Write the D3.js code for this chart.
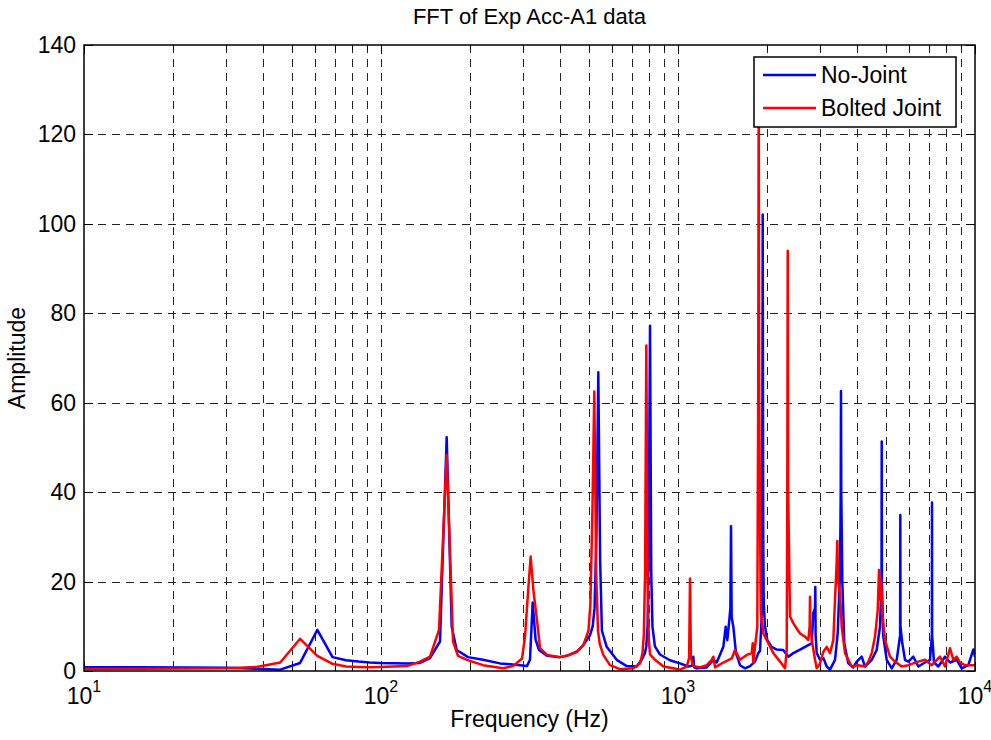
<!DOCTYPE html>
<html lang="en">
    <head>
        <meta charset="utf-8">
        <title>FFT of Exp Acc-A1 data</title>
        <script type="text/javascript" src="https://d3js.org/d3.v7.min.js"></script>
        <style type="text/css">
            body { margin: 0; background: white; }
            text {
                font-family: "Liberation Sans", Arial, sans-serif;
                font-size: 23px;
                fill: black;
            }
            text.title { font-size: 22px; }
        </style>
    </head>
    <body>
        <script type="text/javascript">

        // Datos: [frecuencia (Hz), amplitud]
        var seriesNames = ["No-Joint", "Bolted Joint"];
        var seriesColors = ["#0000ff", "#ff0000"];

        var noJoint = [
            [10,0.85],[15.26,0.85],[22.89,0.8],[30.52,0.7],[38.15,0.5],[45.78,0.3],[53.41,1.8],[61.04,9.2],
            [68.67,3.1],[76.3,2.4],[83.93,2.1],[91.56,1.9],[99.19,1.8],[122.3,1.7],[135.3,1.8],[146.2,2.9],
            [158.0,6.6],[166.4,52.3],[173.0,9.9],[179.8,4.7],[196.3,3.1],[220.5,2.5],[251.6,1.7],[293.8,1.3],
            [310.1,1.1],[317.4,2.5],[324.1,15.3],[331.5,7],[340.4,4.7],[362.2,3.4],[400.6,3.1],[422.0,3.4],
            [456.0,4.3],[479.9,5.8],[505.5,8],[516,10],[523.6,14],[531.2,30],[539.1,66.8],[546.7,25],
            [554.3,9],[575.3,5.4],[621.7,2.5],[671.9,1.1],[726.1,1.0],[754.8,2.5],[774,4],[782,5.5],
            [789.8,10],[797.4,30],[805,77.2],[812.6,22],[820.2,10],[836,5.5],[869.8,3.7],[939.7,2.4],
            [1015.5,1.7],[1083.3,1.0],[1118,1.2],[1126.1,3.2],[1134,0.8],[1156.2,0.6],[1249.2,0.8],[1315,2.5],
            [1350,1.9],[1420.8,5.4],[1447.5,9.9],[1465.6,6.9],[1488.4,11.4],[1500.8,14],[1508.4,32.4],[1516,12],
            [1535.4,9.9],[1567.9,4.0],[1617.4,1.3],[1681.2,0.6],[1747.5,1.1],[1816.8,2.1],[1863.9,4.0],[1888.6,4.5],
            [1913,12],[1920.9,30],[1928.5,102.1],[1936.1,30],[1944,15],[1963,10],[1998.5,6.9],[2067.8,5.4],
            [2149.3,4.8],[2262.2,4.7],[2352,3.2],[2444.8,4.0],[2575.4,4.8],[2746.3,5.8],[2819.9,6.2],[2855.3,13],
            [2892,14],[2899.7,18.8],[2907,8],[2931.3,4.0],[3007.2,2.5],[3085,2.9],[3167.6,1.0],[3249.6,0.3],
            [3377.8,2.5],[3449.2,8.4],[3511.6,21.9],[3530.8,40],[3538.4,62.6],[3546,40],[3574.4,20],[3630,6.2],
            [3744.7,1.7],[3892.4,0.8],[3996.8,2.1],[4154.4,3.2],[4261.9,1.0],[4489.5,2.5],[4666.5,4.7],[4787.5,9.9],
            [4844,20],[4851.8,51.3],[4859,20],[4911.4,7.7],[5043.1,2.5],[5242,0.6],[5450.1,2.5],[5596,8],
            [5604,34.9],[5612,10],[5691.1,6.2],[5811.6,2.5],[5962,2.1],[6198.8,3.2],[6443.6,1.0],[6786.6,1.9],
            [7055.9,2.5],[7158,8],[7165.6,37.7],[7173,8],[7278.3,1.9],[7523.9,1.0],[7925.3,3.2],[8238.2,1.9],
            [8678.3,2.5],[9020.5,0.6],[9493.5,1.3],[9869.8,4.8],[10000,3.2]
        ];

        var boltedJoint = [
            [10,0.45],[15.26,0.5],[22.89,0.55],[30.52,0.6],[38.15,0.9],[45.78,1.9],[53.41,7.2],[61.04,3.4],
            [68.67,1.6],[76.3,1.0],[83.93,0.9],[91.56,0.85],[99.19,0.9],[122.3,1.1],[135.3,2.1],[146.2,3.2],
            [156.8,9.2],[166.4,48.3],[174.8,6.6],[181.6,3.4],[194.8,2.5],[220.5,1.3],[257.5,0.6],[278.3,1.1],
            [298.4,2.8],[305.4,7.7],[313,18],[319.1,25.6],[326,18],[335.1,11.4],[343.1,5.1],[362.2,3.6],
            [400.6,3.1],[422,3.4],[456,4.3],[479.9,5.8],[499.5,9],[507.1,15],[514.8,35],[522.6,62.5],
            [530.2,22],[537.8,9],[545.4,6],[560.4,3.6],[590.2,1.3],[637.8,0.4],[707.2,0.6],[745,1.7],
            [759.5,4],[767.1,8],[774.7,22],[782.3,72.8],[790,20],[797.6,7],[805,3.7],[836.8,2.5],
            [892.3,1.0],[964.2,0.6],[1015.5,0.3],[1069.9,1.0],[1090,3],[1097.7,20.7],[1105.3,3],[1126.1,1.1],
            [1186.1,0.8],[1249.2,1.3],[1298.8,2.5],[1315,3.2],[1332.4,0.8],[1420.8,1.9],[1516.4,2.8],[1555.7,4.7],
            [1617.4,2.5],[1703.4,3.6],[1770.6,4.0],[1784.5,6.2],[1792,1.9],[1849.3,9.9],[1861.9,60],[1869.5,130],
            [1877.1,60],[1899,13.6],[1937.4,8.4],[2013.7,6.2],[2093.6,4.0],[2205.1,2.1],[2292.6,0.6],[2322.9,4.7],
            [2333.6,40],[2341.2,94.0],[2348.8,40],[2383.1,12.2],[2444.8,10.7],[2510.4,9.5],[2575.4,8.4],[2677,7.7],
            [2746.3,6.9],[2775,10],[2782.6,16.6],[2790,10],[2833,6.2],[2893,2.5],[2931.3,0.6],[3007.2,1.7],
            [3085,4.3],[3167.6,5.4],[3249.6,4.0],[3333.7,6.9],[3377.8,15.9],[3420,24],[3438.9,29.1],[3460,20],
            [3511.6,17.4],[3558,9.9],[3650.2,4.0],[3744.7,2.5],[3844.3,1.0],[4046.8,1.3],[4261.9,1.0],[4372.2,2.1],
            [4489.5,4.0],[4605.7,7.7],[4703.2,13.6],[4751.1,22.6],[4790,16],[4825.1,20.4],[4874.2,13],[4977.4,6.9],
            [5173.7,3.2],[5377.8,2.1],[5665,1.0],[5962,1.3],[6443.6,2.1],[6786.6,2.5],[7149.1,1.3],[7624.9,3.2],
            [7925.3,1.0],[8238.2,5.1],[8451.5,2.5],[8678.3,3.2],[8902.9,1.9],[9253.9,1.3],[9747.8,1.3],[10000,1.3]
        ];

        // Ticks
        var yTicks = [0, 20, 40, 60, 80, 100, 120, 140];
        var xExponents = [1, 2, 3, 4];

        // Tamaño y margenes del area de dibujo
        var w = 991;
        var h = 740;
        var pLeft = 84, pRight = 975, pTop = 45, pBottom = 671;

        var x = d3.scaleLog().domain([10, 10000]).range([pLeft, pRight]);
        var y = d3.scaleLinear().domain([0, 140]).range([pBottom, pTop]);

        // Ticks del eje log (1..9 de cada decada)
        var logTicks = [];
        [10, 100, 1000].forEach(function(d) {
            for (var k = 1; k <= 9; k++) logTicks.push(d * k);
        });
        logTicks.push(10000);

        var svg = d3.select("body")
                    .append("svg")
                    .attr("width", w)
                    .attr("height", h);

        svg.append("defs").append("clipPath")
            .attr("id", "plotclip")
            .append("rect")
            .attr("x", pLeft).attr("y", pTop)
            .attr("width", pRight - pLeft).attr("height", pBottom - pTop);

        // Rejilla
        var grid = svg.append("g")
                    .attr("stroke", "#222")
                    .attr("stroke-width", 1)
                    .attr("stroke-dasharray", "8,6");

        grid.selectAll("line.vg")
            .data(logTicks.filter(function(d){ return d > 10 && d < 10000; }))
            .enter()
            .append("line")
            .attr("class", "vg")
            .attr("x1", function(d){ return Math.round(x(d)) + 0.5; })
            .attr("x2", function(d){ return Math.round(x(d)) + 0.5; })
            .attr("y1", pTop)
            .attr("y2", pBottom);

        grid.selectAll("line.hg")
            .data(yTicks.filter(function(d){ return d > 0 && d < 140; }))
            .enter()
            .append("line")
            .attr("class", "hg")
            .attr("x1", pLeft)
            .attr("x2", pRight)
            .attr("y1", function(d){ return Math.round(y(d)) + 0.5; })
            .attr("y2", function(d){ return Math.round(y(d)) + 0.5; });

        // Ticks hacia dentro
        var ticks = svg.append("g").attr("stroke", "black").attr("stroke-width", 1);
        logTicks.forEach(function(d) {
            var lg = Math.log10(d);
            var major = Math.abs(lg - Math.round(lg)) < 1e-9;
            var len = major ? 9 : 5;
            var px = Math.round(x(d)) + 0.5;
            ticks.append("line").attr("x1", px).attr("x2", px).attr("y1", pBottom).attr("y2", pBottom - len);
            ticks.append("line").attr("x1", px).attr("x2", px).attr("y1", pTop).attr("y2", pTop + len);
        });
        yTicks.forEach(function(d) {
            var py = Math.round(y(d)) + 0.5;
            ticks.append("line").attr("x1", pLeft).attr("x2", pLeft + 9).attr("y1", py).attr("y2", py);
            ticks.append("line").attr("x1", pRight).attr("x2", pRight - 9).attr("y1", py).attr("y2", py);
        });

        // Lineas
        var line = d3.line()
                    .x(function(d){ return x(d[0]); })
                    .y(function(d){ return y(d[1]); });

        svg.append("g")
            .attr("clip-path", "url(#plotclip)")
            .selectAll("path")
            .data([noJoint, boltedJoint])
            .enter()
            .append("path")
            .attr("fill", "none")
            .attr("stroke", function(d, i){ return seriesColors[i]; })
            .attr("stroke-width", 2.5)
            .attr("stroke-linejoin", "round")
            .attr("d", line);

        // Marco
        svg.append("rect")
            .attr("x", pLeft).attr("y", pTop)
            .attr("width", pRight - pLeft).attr("height", pBottom - pTop)
            .attr("fill", "none")
            .attr("stroke", "black")
            .attr("stroke-width", 1.5);

        // Etiquetas eje Y
        svg.selectAll("text.ytick")
            .data(yTicks)
            .enter()
            .append("text")
            .attr("class", "ytick")
            .attr("x", pLeft - 8)
            .attr("y", function(d){ return y(d); })
            .attr("dy", "0.35em")
            .attr("text-anchor", "end")
            .text(function(d){ return d; });

        // Etiquetas eje X (10^n)
        var xl = svg.selectAll("text.xtick")
            .data(xExponents)
            .enter()
            .append("text")
            .attr("class", "xtick")
            .attr("x", function(d){ return x(Math.pow(10, d)); })
            .attr("y", pBottom + 33)
            .attr("text-anchor", "middle");
        xl.append("tspan").text("10");
        xl.append("tspan")
            .attr("dy", -12)
            .style("font-size", "16px")
            .text(function(d){ return d; });

        // Titulos
        svg.append("text")
            .attr("class", "title")
            .attr("x", (pLeft + pRight) / 2)
            .attr("y", 24)
            .attr("text-anchor", "middle")
            .text("FFT of Exp Acc-A1 data");

        svg.append("text")
            .attr("x", (pLeft + pRight) / 2)
            .attr("y", 727)
            .attr("text-anchor", "middle")
            .text("Frequency (Hz)");

        svg.append("text")
            .attr("transform", "translate(25," + ((pTop + pBottom) / 2) + ") rotate(-90)")
            .attr("text-anchor", "middle")
            .text("Amplitude");

        // Leyenda
        var legend = svg.append("g").attr("transform", "translate(754,57)");
        legend.append("rect")
            .attr("width", 202)
            .attr("height", 70)
            .attr("fill", "white")
            .attr("stroke", "black")
            .attr("stroke-width", 1.5);
        var items = legend.selectAll("g.item")
            .data(seriesNames)
            .enter()
            .append("g")
            .attr("class", "item")
            .attr("transform", function(d, i){ return "translate(0," + (18 + i * 33) + ")"; });
        items.append("line")
            .attr("x1", 9).attr("x2", 62)
            .attr("stroke", function(d, i){ return seriesColors[i]; })
            .attr("stroke-width", 2.5);
        items.append("text")
            .attr("x", 67)
            .attr("dy", "0.35em")
            .text(function(d){ return d; });

        </script>
    </body>
</html>
